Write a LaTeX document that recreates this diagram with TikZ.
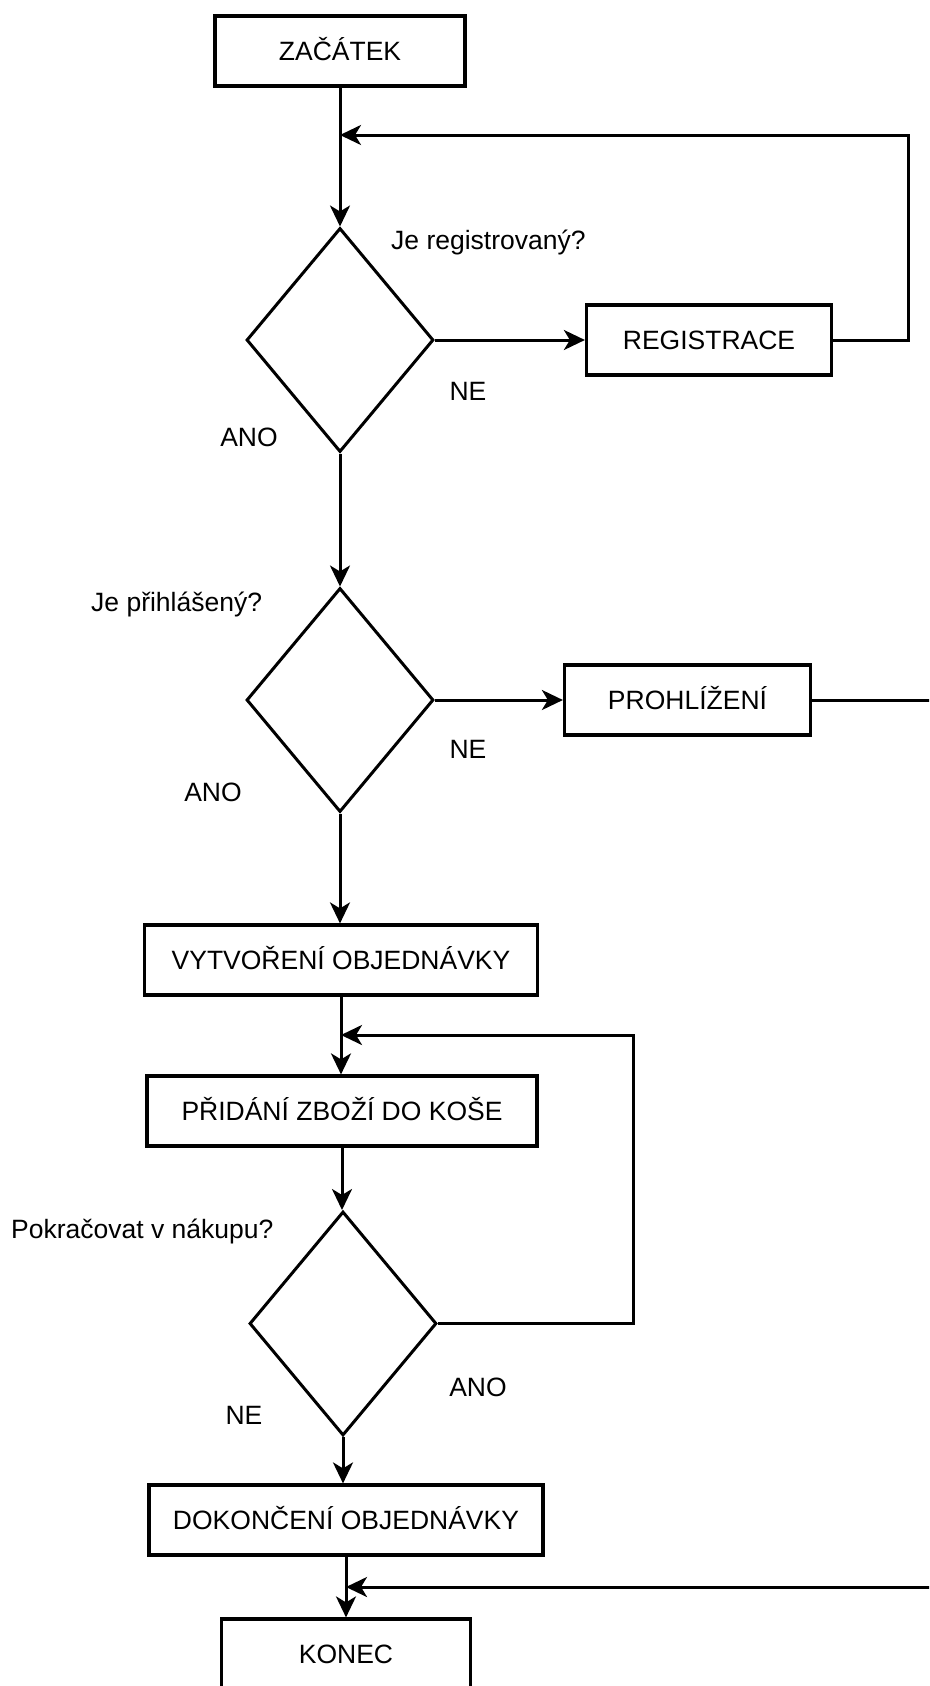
\documentclass[tikz,border=0pt]{standalone}
\usepackage{fontspec}
\setmainfont{Liberation Sans}
\usetikzlibrary{arrows.meta,shapes.geometric}

\begin{document}
\begin{tikzpicture}[
  x=1pt,y=-1pt,
  font=\fontsize{26.5pt}{30pt}\selectfont,
  bx/.style={draw,line width=3.2pt,inner sep=0pt,text height=19pt,text depth=0pt,
             minimum height=70pt},
  dm/.style={draw,diamond,line width=3pt,inner sep=0pt,
             minimum width=187pt,minimum height=224pt},
  lb/.style={inner sep=0pt,text height=19pt,text depth=0pt},
  a/.style={-{Stealth[length=21pt,width=20pt,inset=6pt]},line width=3pt}
]
\useasboundingbox (0,0) rectangle (929,1686);
\clip (0,0) rectangle (929,1686);

\node[bx,minimum width=250pt] (zac) at (340,51) {ZAČÁTEK};
\node[dm] (d1) at (340,340) {};
\node[bx,minimum width=245pt] (reg) at (709,340) {REGISTRACE};
\node[dm] (d2) at (340,700) {};
\node[bx,minimum width=246pt] (pro) at (687.5,700) {PROHLÍŽENÍ};
\node[bx,minimum width=393pt] (vyt) at (341,960) {VYTVOŘENÍ OBJEDNÁVKY};
\node[bx,minimum width=390pt] (prid) at (342,1111) {PŘIDÁNÍ ZBOŽÍ DO KOŠE};
\node[dm] (d3) at (343,1323.5) {};
\node[bx,minimum width=394pt] (dok) at (346,1520) {DOKONČENÍ OBJEDNÁVKY};
\node[bx,minimum width=249pt] (kon) at (346,1654) {KONEC};

\node[lb,anchor=west] (q1) at (391,240) {Je registrovaný?};
\node[lb] (ne1) at (468,391) {NE};
\node[lb] (ano1) at (249,437) {ANO};
\node[lb,anchor=west] (q2) at (91,602) {Je přihlášený?};
\node[lb] (ne2) at (468,749) {NE};
\node[lb] (ano2) at (213,792) {ANO};
\node[lb,anchor=west] (q3) at (11,1229) {Pokračovat v nákupu?};
\node[lb] (ano3) at (478,1387) {ANO};
\node[lb] (ne3) at (244,1415) {NE};

\coordinate (j1) at (340,135);
\coordinate (j2) at (341,1035);
\coordinate (j3) at (346,1587);

\foreach \a/\b in {zac/d1, d1/d2, d2/vyt, vyt/prid, prid/d3, d3/dok, dok/kon}
  {\draw[a] (\a.south) -- (\a.south |- \b.north);}

\draw[a] (d1.east) -- (reg.west);
\draw[a] (d2.east) -- (pro.west);

\draw[a] (reg.east) -- ++(75,0) |- (j1);
\draw[a] (d3.east) -- ++(195,0) |- (j2);
\draw[a] (pro.east) -- ++(140,0) |- (j3);
\end{tikzpicture}
\end{document}
